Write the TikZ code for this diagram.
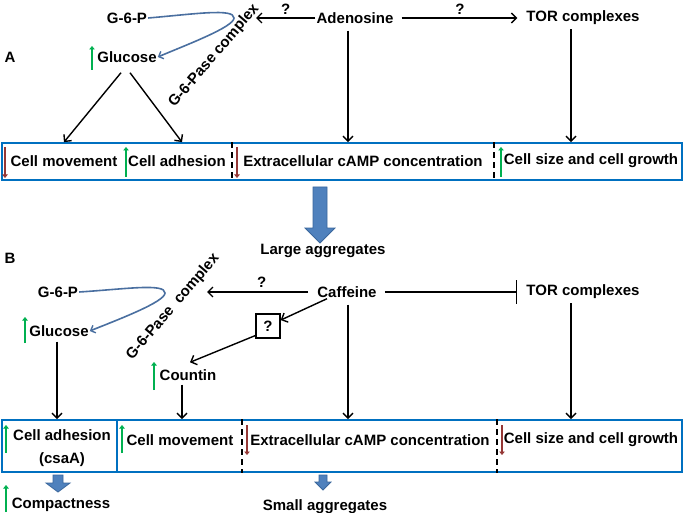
\documentclass[tikz,border=0pt]{standalone}
\usepackage{fontspec}
\setmainfont{Liberation Sans}
\usetikzlibrary{arrows.meta}

\definecolor{boxblue}{HTML}{0070C0}
\definecolor{fatblue}{HTML}{4F81BD}
\definecolor{fatedge}{HTML}{3A679C}
\definecolor{curveblue}{HTML}{4A6FA0}
\definecolor{upgreen}{HTML}{00B050}
\definecolor{downbrown}{HTML}{953735}

% fat block arrow: x, y top, y head, y tip, shaft half width, head half width
\newcommand{\fatarrow}[6]{%
  \filldraw[fatarr] ({#1-#5},#2) -- ({#1+#5},#2) -- ({#1+#5},#3) -- ({#1+#6},#3)
    -- (#1,#4) -- ({#1-#6},#3) -- ({#1-#5},#3) -- cycle;}

\begin{document}
\begin{tikzpicture}[x=1pt,y=-1pt,
  font=\fontsize{15}{23}\selectfont\bfseries,
  every node/.style={inner sep=1pt},
  arr/.style={line width=1.4pt,-{Straight Barb[length=5pt,width=10pt,line width=1.4pt]}},
  inhib/.style={line width=1.4pt,-{Bar[width=24pt,line width=1.6pt]}},
  upmark/.style={line width=2.8pt,upgreen,-{Triangle[length=3.5pt,width=5.5pt]}},
  downmark/.style={line width=2.8pt,downbrown,-{Triangle[length=3.5pt,width=5.5pt]}},
  panelbox/.style={draw=boxblue,line width=1.8pt,inner sep=0pt},
  divider/.style={line width=1.5pt,dash pattern=on 6pt off 4pt},
  pathcurve/.style={curveblue,line width=1.6pt,-{Straight Barb[length=4pt,width=8pt,line width=1.4pt]}},
  fatarr/.style={fill=fatblue,draw=fatedge,line width=0.8pt}]
\useasboundingbox (0,0) rectangle (685,513);

% Panel A
\node (labA) at (10,57) {A};
\node (g6pA) at (127,18) {G-6-P};
\node (glcA) at (127,57) {Glucose};
\node[rotate=49.5] (paseA) at (214,56) {G-6-Pase complex};
\node (adoA) at (355,18) {Adenosine};
\node (torA) at (583,18) {TOR complexes};
\coordinate (paseAend) at (256,18);

\draw[pathcurve] (g6pA.east) .. controls (195,14) and (234,8) .. (234,18)
  .. controls (234,27) and (186,45) .. (glcA.east);
\draw[upmark] (92,70) -- (92,46);

\node[panelbox, minimum width=680pt, minimum height=37pt] (boxA) at (342,161.5) {};
\node (cmA) at (64,161) {Cell movement};
\node (caA) at (177,161) {Cell adhesion};
\node (ecA) at (363,161) {Extracellular cAMP concentration};
\node (csA) at (591,161) {Cell size and cell growth};
\draw[divider] (232,0 |- boxA.north) -- (232,0 |- boxA.south);
\draw[divider] (494,0 |- boxA.north) -- (494,0 |- boxA.south);
\draw[downmark] (5,147) -- (5,178);
\draw[upmark] (126,177) -- (126,147);
\draw[downmark] (237,147) -- (237,178);
\draw[upmark] (501,177) -- (501,147);

\draw[arr] (adoA.west) -- (paseAend) node[midway, above=2pt] {?};
\draw[arr, shorten <=7pt, shorten >=8pt] (adoA.east) -- (torA.west) node[midway, above=2pt] {?};
\draw[arr] ([xshift=-6pt,yshift=-9pt]glcA.south) -- (cmA.north |- boxA.north);
\draw[arr] ([xshift=3pt,yshift=-9pt]glcA.south) -- ([xshift=5pt]caA.north |- boxA.north);
\draw[arr, shorten <=6pt] ([xshift=-7pt]adoA.south) -- ([xshift=-7pt]adoA.south |- boxA.north);
\draw[arr, shorten <=3pt] ([xshift=-12pt]torA.south) -- ([xshift=-12pt]torA.south |- boxA.north);

\fatarrow{320}{187}{228}{243}{7}{15}
\node (bigA) at (323,251) {Large aggregates};

% Panel B
\node (labB) at (10,258) {B};
\node (g6pB) at (58,292) {G-6-P};
\node (glcB) at (59,331) {Glucose};
\node[rotate=49.5] (paseB) at (173,307) {G-6-Pase\ \ complex};
\node (cafB) at (347,292) {Caffeine};
\node (torB) at (583,292) {TOR complexes};
\node[draw, line width=1.4pt, minimum size=24pt, inner sep=0pt] (qbox) at (268,326) {?};
\node (cntB) at (188,375) {Countin};
\coordinate (paseBend) at (207,292);

\draw[pathcurve] (g6pB.east) .. controls (126,289) and (165,283) .. (165,293)
  .. controls (165,302) and (117,320) .. (glcB.east);
\draw[upmark] (25,343) -- (25,317);
\draw[upmark] (154,390) -- (154,362);

\draw[arr, shorten <=8pt] (cafB.west) -- (paseBend) node[midway, above=3pt] {?};
\draw[inhib, shorten <=7pt, shorten >=8pt] (cafB.east) -- (torB.west);
\draw[arr] ([xshift=-20pt]cafB.south) -- (qbox.25);
\draw[arr] (qbox.217) -- ([xshift=2pt,yshift=6pt]cntB.north);

\node[panelbox, minimum width=115pt, minimum height=52pt] (boxBl) at (59.5,446) {};
\node[panelbox, minimum width=565pt, minimum height=52pt] (boxBr) at (399.5,446) {};
\node[align=center] (caB) at (62,448) {Cell adhesion\\(csaA)};
\node (cmB) at (180,440) {Cell movement};
\node (ecB) at (370,440) {Extracellular cAMP concentration};
\node (csB) at (591,440) {Cell size and cell growth};
\draw[divider] (242,0 |- boxBr.north) -- (242,0 |- boxBr.south);
\draw[divider] (497,0 |- boxBr.north) -- (497,0 |- boxBr.south);
\draw[upmark] (6,453) -- (6,425);
\draw[upmark] (122,453) -- (122,425);
\draw[downmark] (247,425) -- (247,455);
\draw[downmark] (502,425) -- (502,455);

\draw[arr, shorten <=4pt] ([xshift=-2pt]glcB.south) -- ([xshift=-2pt]glcB.south |- boxBl.north);
\draw[arr, shorten <=3pt] ([xshift=-6pt]cntB.south) -- ([xshift=-6pt]cntB.south |- boxBr.north);
\draw[arr, shorten <=6pt] ([xshift=1pt]cafB.south) -- ([xshift=1pt]cafB.south |- boxBr.north);
\draw[arr, shorten <=3pt] ([xshift=-12pt]torB.south) -- ([xshift=-12pt]torB.south |- boxBr.north);

\fatarrow{58}{475}{483}{492}{5}{12}
\node (cmpB) at (61,505) {Compactness};
\draw[upmark] (6,512) -- (6,485);
\fatarrow{323}{475}{482}{490}{4}{8}
\node (smB) at (325,507) {Small aggregates};
\end{tikzpicture}
\end{document}
